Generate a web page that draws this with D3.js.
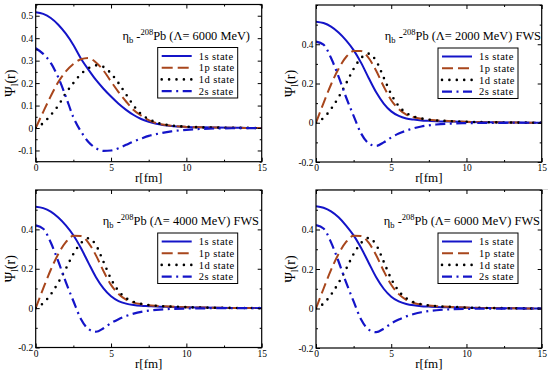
<!DOCTYPE html>
<html>
<head>
<meta charset="utf-8">
<script src="https://cdn.jsdelivr.net/npm/d3@7"></script>
<style>
  html, body { margin: 0; padding: 0; background: #fff; }
  svg { display: block; }
  text { font-family: "Liberation Serif", "Times New Roman", "DejaVu Serif", serif; }
</style>
</head>
<body>
<svg id="chart" width="550" height="376"></svg>
<script>
// ---------------- data ----------------
const r = [0, 0.5, 1, 1.5, 2, 2.5, 3, 3.5, 4, 4.5, 5, 5.5, 6, 6.5, 7, 7.5, 8, 9, 10, 11, 12, 13, 14, 15];

const stateNames = ["1s state", "1p state", "1d state", "2s state"];
const xTicks = [0, 5, 10, 15];

// Panel A: eta_b - 208Pb (Lambda = 6000 MeV)
const a1s = [0.515, 0.508, 0.49, 0.46, 0.42, 0.37, 0.31, 0.26, 0.214, 0.175, 0.14, 0.108, 0.081, 0.058, 0.04, 0.028, 0.019, 0.009, 0.005, 0.003, 0.002, 0.001, 0.0005, 0];
const a1p = [0, 0.072, 0.142, 0.205, 0.252, 0.285, 0.306, 0.312, 0.292, 0.256, 0.207, 0.16, 0.118, 0.08, 0.055, 0.035, 0.022, 0.01, 0.005, 0.003, 0.002, 0.001, 0.0005, 0];
const a1d = [0, 0.022, 0.058, 0.1, 0.155, 0.2, 0.24, 0.266, 0.279, 0.272, 0.243, 0.2, 0.15, 0.1, 0.062, 0.04, 0.025, 0.011, 0.006, 0.003, 0.002, 0.001, 0.0005, 0];
const a2s = [0.355, 0.33, 0.29, 0.225, 0.14, 0.048, -0.015, -0.062, -0.09, -0.102, -0.1, -0.09, -0.075, -0.06, -0.047, -0.035, -0.027, -0.015, -0.008, -0.004, -0.002, -0.001, -0.0005, 0];

// Panel B: Lambda = 2000 MeV, FWS
const b1s = [0.515, 0.508, 0.49, 0.46, 0.42, 0.37, 0.305, 0.228, 0.155, 0.098, 0.058, 0.035, 0.022, 0.016, 0.012, 0.01, 0.008, 0.006, 0.004, 0.003, 0.002, 0.001, 0.0005, 0];
const b1p = [0, 0.1, 0.195, 0.275, 0.335, 0.365, 0.365, 0.33, 0.265, 0.185, 0.115, 0.07, 0.042, 0.028, 0.02, 0.015, 0.012, 0.008, 0.005, 0.003, 0.002, 0.001, 0.0005, 0];
const b1d = [0, 0.025, 0.07, 0.13, 0.2, 0.275, 0.33, 0.352, 0.315, 0.23, 0.145, 0.085, 0.05, 0.032, 0.022, 0.016, 0.012, 0.008, 0.005, 0.003, 0.002, 0.001, 0.0005, 0];
const b2s = [0.413, 0.398, 0.33, 0.235, 0.13, 0.035, -0.055, -0.105, -0.118, -0.1, -0.075, -0.055, -0.04, -0.028, -0.019, -0.013, -0.009, -0.004, -0.002, -0.001, -0.0005, 0, 0, 0];

// Panel C: Lambda = 4000 MeV, FWS
const c1s = [0.515, 0.508, 0.49, 0.46, 0.42, 0.37, 0.305, 0.23, 0.157, 0.1, 0.06, 0.036, 0.023, 0.016, 0.012, 0.01, 0.008, 0.006, 0.004, 0.003, 0.002, 0.001, 0.0005, 0];
const c1p = [0, 0.1, 0.195, 0.275, 0.335, 0.367, 0.366, 0.332, 0.268, 0.188, 0.118, 0.072, 0.043, 0.028, 0.02, 0.015, 0.012, 0.008, 0.005, 0.003, 0.002, 0.001, 0.0005, 0];
const c1d = [0, 0.025, 0.07, 0.13, 0.2, 0.275, 0.33, 0.355, 0.32, 0.235, 0.148, 0.087, 0.051, 0.032, 0.022, 0.016, 0.012, 0.008, 0.005, 0.003, 0.002, 0.001, 0.0005, 0];
const c2s = [0.42, 0.403, 0.333, 0.237, 0.132, 0.036, -0.055, -0.106, -0.12, -0.102, -0.076, -0.056, -0.04, -0.028, -0.019, -0.013, -0.009, -0.004, -0.002, -0.001, -0.0005, 0, 0, 0];

// Panel D: Lambda = 6000 MeV, FWS
const d1s = [0.518, 0.51, 0.492, 0.462, 0.42, 0.37, 0.306, 0.232, 0.158, 0.1, 0.06, 0.036, 0.023, 0.016, 0.012, 0.01, 0.008, 0.006, 0.004, 0.003, 0.002, 0.001, 0.0005, 0];
const d1p = [0, 0.1, 0.196, 0.276, 0.337, 0.368, 0.367, 0.333, 0.27, 0.19, 0.12, 0.073, 0.044, 0.028, 0.02, 0.015, 0.012, 0.008, 0.005, 0.003, 0.002, 0.001, 0.0005, 0];
const d1d = [0, 0.025, 0.07, 0.13, 0.2, 0.276, 0.332, 0.357, 0.322, 0.237, 0.15, 0.088, 0.052, 0.032, 0.022, 0.016, 0.012, 0.008, 0.005, 0.003, 0.002, 0.001, 0.0005, 0];
const d2s = [0.422, 0.405, 0.335, 0.238, 0.132, 0.036, -0.056, -0.107, -0.12, -0.102, -0.076, -0.056, -0.04, -0.028, -0.019, -0.013, -0.009, -0.004, -0.002, -0.001, -0.0005, 0, 0, 0];

const titlesLambda = ["6000 MeV)", "2000 MeV) FWS", "4000 MeV) FWS", "6000 MeV) FWS"];

// ---------------- layout & styles ----------------
const FONT = "Liberation Serif, Times New Roman, DejaVu Serif, serif";
const panels = [
  { x0: 35.7, x1: 261.7, y0: 4.5, y1: 161.7, yDom: [-0.15, 0.55], yTicks: [-0.1, 0, 0.1, 0.2, 0.3, 0.4, 0.5], yMinor: 0.05, series: [a1s, a1p, a1d, a2s], title: titlesLambda[0], titleX: 250 },
  { x0: 316, x1: 541.7, y0: 5, y1: 162, yDom: [-0.2, 0.6], yTicks: [-0.2, 0, 0.2, 0.4], yMinor: 0.1, series: [b1s, b1p, b1d, b2s], title: titlesLambda[1], titleX: 541 },
  { x0: 35.7, x1: 261.7, y0: 190, y1: 347.5, yDom: [-0.2, 0.6], yTicks: [-0.2, 0, 0.2, 0.4], yMinor: 0.1, series: [c1s, c1p, c1d, c2s], title: titlesLambda[2], titleX: 259 },
  { x0: 316, x1: 541.7, y0: 190, y1: 348, yDom: [-0.2, 0.6], yTicks: [-0.2, 0, 0.2, 0.4], yMinor: 0.1, series: [d1s, d1p, d1d, d2s], title: titlesLambda[3], titleX: 540 }
];

const styles = [
  { color: "#1414c8", width: 2, dash: null, cap: "butt" },
  { color: "#a8461c", width: 2, dash: "11,5", cap: "butt" },
  { color: "#000000", width: 2.6, dash: "0,7.4", cap: "round" },
  { color: "#1414c8", width: 2.2, dash: "10,4.5,2,4.5", cap: "butt" }
];

const svg = d3.select("#chart").attr("font-family", FONT);
svg.append("rect").attr("width", 550).attr("height", 376).attr("fill", "#fff");

// faint separator line in the composite figure
svg.append("line").attr("x1", 322).attr("x2", 548).attr("y1", 189.5).attr("y2", 189.5)
  .attr("stroke", "#d6d6d6").attr("stroke-width", 1);

const fmt = v => (Math.abs(v) < 1e-9 ? "0" : String(+v.toFixed(2)));

panels.forEach((p, pi) => {
  const g = svg.append("g");
  const x = d3.scaleLinear().domain([0, 15]).range([p.x0, p.x1]);
  const y = d3.scaleLinear().domain(p.yDom).range([p.y1, p.y0]);

  const yMinorVals = d3.range(Math.ceil(p.yDom[0] / p.yMinor - 1e-9), Math.floor(p.yDom[1] / p.yMinor + 1e-9) + 1)
    .map(k => +(k * p.yMinor).toFixed(3))
    .filter(v => !p.yTicks.some(t => Math.abs(t - v) < 1e-9));
  const yMajorAll = p.yTicks.slice();
  const xMinor = [2.5, 7.5, 12.5];

  const clipId = "clip" + pi;
  g.append("clipPath").attr("id", clipId).append("rect")
    .attr("x", p.x0).attr("y", p.y0).attr("width", p.x1 - p.x0).attr("height", p.y1 - p.y0);

  const line = d3.line().x((d, i) => x(r[i])).y(d => y(d)).curve(d3.curveMonotoneX);
  const cg = g.append("g").attr("clip-path", `url(#${clipId})`);
  p.series.forEach((s, si) => {
    const st = styles[si];
    cg.append("path").datum(s).attr("d", line)
      .attr("fill", "none").attr("stroke", st.color).attr("stroke-width", st.width)
      .attr("stroke-dasharray", st.dash).attr("stroke-linecap", st.cap).attr("stroke-linejoin", "round");
  });

  const addAxis = (axis, tx, ty, vals, size, labels) => {
    const a = axis.tickValues(vals).tickSize(size).tickPadding(labels ? 2.5 : 0)
      .tickFormat(labels ? fmt : "");
    const ag = g.append("g").attr("transform", `translate(${tx},${ty})`).call(a);
    ag.attr("font-family", FONT);
    ag.select(".domain").remove();
    ag.selectAll("line").attr("stroke", "#000").attr("stroke-width", 1);
    ag.selectAll("text").attr("font-family", FONT).attr("font-size", 9.5).attr("fill", "#000");
    return ag;
  };
  addAxis(d3.axisBottom(x), 0, p.y1, xTicks, -4, true);
  addAxis(d3.axisBottom(x), 0, p.y1, xMinor, -2, false);
  addAxis(d3.axisTop(x), 0, p.y0, xTicks, -4, false);
  addAxis(d3.axisTop(x), 0, p.y0, xMinor, -2, false);
  addAxis(d3.axisLeft(y), p.x0, 0, yMajorAll, -4, true);
  addAxis(d3.axisLeft(y), p.x0, 0, yMinorVals, -2, false);
  addAxis(d3.axisRight(y), p.x1, 0, yMajorAll, -4, false);
  addAxis(d3.axisRight(y), p.x1, 0, yMinorVals, -2, false);

  g.append("rect").attr("x", p.x0).attr("y", p.y0).attr("width", p.x1 - p.x0).attr("height", p.y1 - p.y0)
    .attr("fill", "none").attr("stroke", "#000").attr("stroke-width", 1.2);

  g.append("text").attr("x", (p.x0 + p.x1) / 2).attr("y", p.y1 + 20)
    .attr("font-family", FONT).attr("text-anchor", "middle").attr("font-size", 13).text("r[fm]");
  const yl = g.append("text")
    .attr("transform", `translate(${p.x0 - 21},${(p.y0 + p.y1) / 2}) rotate(-90)`)
    .attr("font-family", FONT).attr("text-anchor", "middle").attr("font-size", 14);
  yl.append("tspan").text("Ψ");
  yl.append("tspan").attr("font-size", 10).attr("dy", 3).text("l");
  yl.append("tspan").attr("dy", -3).text("(r)");

  const t = g.append("text").attr("x", p.titleX).attr("y", p.y0 + 35)
    .attr("font-family", FONT).attr("text-anchor", "end").attr("font-size", 12.4);
  t.append("tspan").text("η");
  t.append("tspan").attr("font-size", 8.5).attr("dy", 3).text("b");
  t.append("tspan").attr("dy", -3).text(" -");
  t.append("tspan").attr("font-size", 8.5).attr("dy", -5).text("208");
  t.append("tspan").attr("dy", 5).text("Pb (Λ= " + p.title);

  const lx = p.x0 + 122, ly = p.y0 + 43;
  const lg = g.append("g");
  lg.append("rect").attr("x", lx).attr("y", ly).attr("width", 80).attr("height", 50.5)
    .attr("fill", "#fff").attr("stroke", "#000").attr("stroke-width", 1);
  stateNames.forEach((name, si) => {
    const st = styles[si];
    const yy = ly + 8.5 + si * 11.7;
    lg.append("line").attr("x1", lx + 4).attr("x2", lx + 34).attr("y1", yy).attr("y2", yy)
      .attr("stroke", st.color).attr("stroke-width", st.width)
      .attr("stroke-dasharray", st.dash).attr("stroke-linecap", st.cap);
    lg.append("text").attr("x", lx + 41).attr("y", yy + 3.6)
      .attr("font-family", FONT).attr("font-size", 10.5).attr("letter-spacing", 0.45).text(name);
  });
});
</script>
</body>
</html>
